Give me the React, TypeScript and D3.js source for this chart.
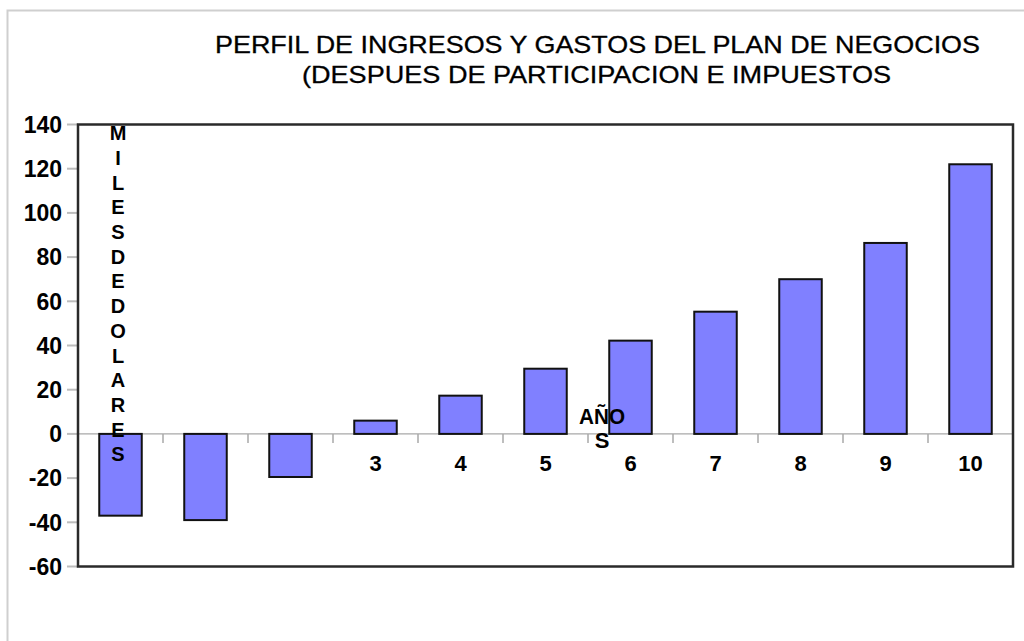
import React from "react";
import * as d3 from "d3";

const years = ["0", "1", "2", "3", "4", "5", "6", "7", "8", "9", "10"];
const values = [-37, -39, -19.5, 6, 17.3, 29.5, 42.2, 55.3, 70, 86.4, 122];
const yTicks = [-60, -40, -20, 0, 20, 40, 60, 80, 100, 120, 140];
const titleLines = [
  "PERFIL DE INGRESOS Y GASTOS DEL PLAN DE NEGOCIOS",
  "(DESPUES DE PARTICIPACION E IMPUESTOS",
];
const yTitle = "MILESDEDOLARES";
const xTitleLines = ["AÑO", "S"];

const W = 1024;
const H = 641;
const left = 78;
const right = 1013;
const top = 124.5;
const bottom = 566.5;

export default function App() {
  const x = d3.scaleBand<string>().domain(years).range([left, right]).paddingInner(0.5).paddingOuter(0.25);
  const y = d3.scaleLinear().domain([-60, 140]).range([bottom, top]);
  const y0 = y(0);
  const step = x.step();
  const font = "'Liberation Sans', Arial, sans-serif";
  const boundaries = d3.range(1, years.length).map((i) => left + step * i);

  return (
    <svg width={W} height={H} style={{ position: "absolute", left: 0, top: 0, background: "#fff" }} fontFamily={font}>
      <rect x={0} y={0} width={W} height={H} fill="#fff" />
      <rect x={7.5} y={10.5} width={1100} height={700} fill="none" stroke="#cfcfcf" strokeWidth={2} />
      {titleLines.map((t, i) => (
        <text
          key={t}
          x={i === 0 ? 215 : 302}
          y={i === 0 ? 53 : 83}
          fontSize={24}
          textLength={i === 0 ? 765 : 589}
          lengthAdjust="spacingAndGlyphs"
          stroke="#000"
          strokeWidth={0.3}
          fill="#000"
        >
          {t}
        </text>
      ))}
      {yTicks.map((v) => (
        <g key={v}>
          <line x1={67} x2={left} y1={y(v)} y2={y(v)} stroke="#bdbdbd" strokeWidth={2} />
          <text x={62} y={y(v)} dy="0.36em" textAnchor="end" fontSize={23} fontWeight="bold" fill="#000">
            {v}
          </text>
        </g>
      ))}
      <line x1={left} x2={right} y1={y0} y2={y0} stroke="#a8a8a8" strokeWidth={1.2} />
      {boundaries.map((b, i) => (
        <line key={i} x1={b} x2={b} y1={y0} y2={y0 + 9} stroke="#a8a8a8" strokeWidth={1.5} />
      ))}
      {years.map((c, i) =>
        // labels of the strongly negative bars are covered by the bars themselves
        values[i] < -10 ? null : (
          <text key={c} x={(x(c) as number) + x.bandwidth() / 2} y={463} dy="0.36em" textAnchor="middle" fontSize={22} fontWeight="bold" fill="#000">
            {c}
          </text>
        )
      )}
      {years.map((c, i) => {
        const v = values[i];
        const yy = Math.min(y(v), y0);
        const h = Math.abs(y(v) - y0);
        return (
          <rect key={c} x={x(c)} y={yy} width={x.bandwidth()} height={h} fill="#8080ff" stroke="#111" strokeWidth={2} />
        );
      })}
      <rect x={left} y={top} width={right - left} height={bottom - top} fill="none" stroke="#2a2a2a" strokeWidth={2.5} />
      {yTitle.split("").map((ch, i) => (
        <text key={i} x={118} y={133 + i * 24.7} dy="0.36em" textAnchor="middle" fontSize={20} fontWeight="bold" fill="#000">
          {ch}
        </text>
      ))}
      {xTitleLines.map((t, i) => (
        <text
          key={i}
          x={602}
          y={i === 0 ? 424 : 448}
          textAnchor="middle"
          fontSize={22}
          fontWeight="bold"
          fill="#000"
          {...(i === 0 ? { textLength: 46, lengthAdjust: "spacingAndGlyphs" } : {})}
        >
          {t}
        </text>
      ))}
    </svg>
  );
}
